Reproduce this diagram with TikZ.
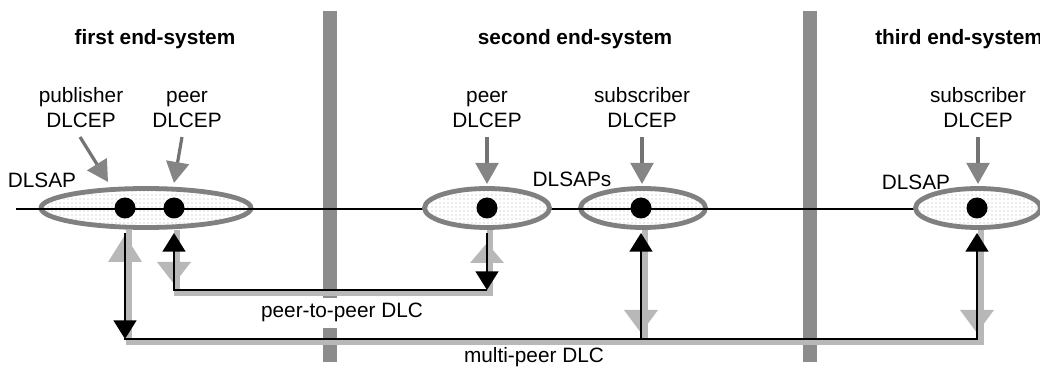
\documentclass[tikz,border=0pt]{standalone}
\usepackage{fontspec}
\setmainfont{Liberation Sans}
\usetikzlibrary{arrows.meta,shapes.geometric,patterns,calc}

\definecolor{barfill}{gray}{0.55}
\definecolor{ringgray}{gray}{0.5}
\definecolor{dotgray}{gray}{0.68}
\definecolor{ptrgray}{gray}{0.45}
\definecolor{ptrhead}{gray}{0.52}
\definecolor{shadegray}{gray}{0.72}

\begin{document}
\begin{tikzpicture}[x=0.75pt,y=-0.75pt,
  txt/.style={font=\fontsize{15.6}{18.75}\selectfont, inner sep=0pt, anchor=base},
  ttl/.style={font=\fontsize{15.6}{18.75}\selectfont\bfseries, inner sep=0pt, anchor=base},
  ring/.style={ellipse, draw=ringgray, line width=3.6pt, inner sep=0pt,
    minimum height=29.25pt, pattern=dots, pattern color=dotgray,
    preaction={fill=white}},
  endpt/.style={circle, fill=black, minimum size=15.75pt, inner sep=0pt},
  ptr/.style={draw=ptrgray, line width=2.4pt,
    -{Triangle[width=17pt,length=15.75pt,color=ptrhead]}},
  blk/.style={draw=black, line width=2pt},
  blktip/.style={-{Triangle[width=17pt,length=14pt]}},
  shd/.style={draw=shadegray, line width=4.5pt},
  shdhead/.style={fill=shadegray},
]
\useasboundingbox (0,0) rectangle (1040,367);

% separators between the end-systems
\fill[barfill] (323,11) rectangle (337,362);
\fill[barfill] (803,11) rectangle (817,362);

% end-system titles
\node[ttl] (t1) at (155,45) {first end-system};
\node[ttl] (t2) at (575,45) {second end-system};
\node[ttl, anchor=base west] (t3) at (875,45) {third end-system};

% DLSAP rings lying under the link line
\node[ring, minimum width=157.5pt] (esPub) at (146,208) {};
\node[ring, minimum width=93.75pt] (esSub2) at (643,208) {};

% the link
\coordinate (lineL) at (16,209);
\coordinate (lineR) at (1045,209);
\draw[line width=1.5pt] (lineL) -- (lineR);

% DLSAP rings covering the link line
\node[ring, minimum width=93.75pt] (esPeer2) at (487,208) {};
\node[ring, minimum width=93.75pt] (esSub3) at (978,208) {};

% connection end points
\node[endpt] (dPub) at (125,208) {};
\node[endpt] (dPeer1) at (174,208) {};
\node[endpt] (dPeer2) at (487,208) {};
\node[endpt] (dSub2) at (641,208) {};
\node[endpt] (dSub3) at (977,208) {};

% DLSAP labels
\node[txt] (sap1) at (42,188) {DLSAP};
\node[txt] (sap2) at (572,187) {DLSAPs};
\node[txt] (sap3) at (916,190) {DLSAP};

% DLCEP labels
\node[txt] (lPubA) at (81,103) {publisher};
\node[txt] (lPubB) at (81,128) {DLCEP};
\node[txt] (lPe1A) at (187,103) {peer};
\node[txt] (lPe1B) at (187,128) {DLCEP};
\node[txt] (lPe2A) at (487,103) {peer};
\node[txt] (lPe2B) at (487,128) {DLCEP};
\node[txt] (lSu2A) at (642,103) {subscriber};
\node[txt] (lSu2B) at (642,128) {DLCEP};
\node[txt] (lSu3A) at (978,103) {subscriber};
\node[txt] (lSu3B) at (978,128) {DLCEP};

% pointers from the labels to the rings
\coordinate (aPub) at (80,137);   \coordinate (hPub) at (108,182);
\coordinate (aPe1) at (182,137);  \coordinate (hPe1) at (174,183);
\coordinate (aPe2) at (487,137);  \coordinate (hPe2) at (487,184);
\coordinate (aSu2) at (642,137);  \coordinate (hSu2) at (642,184);
\coordinate (aSu3) at (978,137);  \coordinate (hSu3) at (978,184);
\draw[ptr] (aPub) -- (hPub);
\draw[ptr] (aPe1) -- (hPe1);
\draw[ptr] (aPe2) -- (hPe2);
\draw[ptr] (aSu2) -- (hSu2);
\draw[ptr] (aSu3) -- (hSu3);

% attachment points below the rings and corners of the DLC paths
\coordinate (qPub) at (125,233);
\coordinate (qPeer1) at (174,233);
\coordinate (qPeer2) at (487,233);
\coordinate (qSub2) at (641,233);
\coordinate (qSub3) at (977,233);
\coordinate (kP1) at (174,290);
\coordinate (kP2) at (487,290);
\coordinate (kM1) at (125,339);
\coordinate (kM2) at (641,339);
\coordinate (kM3) at (977,339);

% shaded (reverse direction) paths
\draw[shd] ($(qPeer1)+(3,-3)$) -- ($(kP1)+(3,3.5)$) -- ($(kP2)+(3,3.5)$) -- ($(qPeer2)+(3,-3)$);
\draw[shd] ($(qPub)+(4,-3)$) -- ($(kM1)+(4,3.5)$) -- ($(kM3)+(4,3.5)$) -- ($(qSub3)+(4,-3)$);
\draw[shd] ($(kM2)+(4,3.5)$) -- ($(qSub2)+(4,-3)$);
\fill[shdhead] ($(kP1)+(-17,-28)$) -- ($(kP1)+(17,-28)$) -- ($(kP1)+(0,-6)$) -- cycle;
\fill[shdhead] ($(qPeer2)+(-17,30)$) -- ($(qPeer2)+(17,30)$) -- ($(qPeer2)+(0,10)$) -- cycle;
\fill[shdhead] ($(qPub)+(-17,29)$) -- ($(qPub)+(17,29)$) -- ($(qPub)+(0,2)$) -- cycle;
\fill[shdhead] ($(kM2)+(-17,-29)$) -- ($(kM2)+(17,-29)$) -- ($(kM2)+(0,-6)$) -- cycle;
\fill[shdhead] ($(kM3)+(-17,-29)$) -- ($(kM3)+(17,-29)$) -- ($(kM3)+(0,-6)$) -- cycle;

% peer-to-peer DLC
\draw[blk, blktip] (qPeer2) -- (kP2);
\draw[blk, blktip] (kP2) -- (kP1) -- (qPeer1);

% multi-peer DLC
\draw[blk, blktip] (qPub) -- (kM1);
\draw[blk, line cap=rect] (kM1) -- (kM3);
\draw[blk, blktip] (kM2) -- (qSub2);
\draw[blk, blktip] (kM3) -- (qSub3);

% DLC labels
\node[txt, fill=white, inner xsep=3pt, inner ysep=4pt] (lP2P) at (342,318) {peer-to-peer DLC};
\node[txt] (lMP) at (534,363) {multi-peer DLC};
\end{tikzpicture}
\end{document}
